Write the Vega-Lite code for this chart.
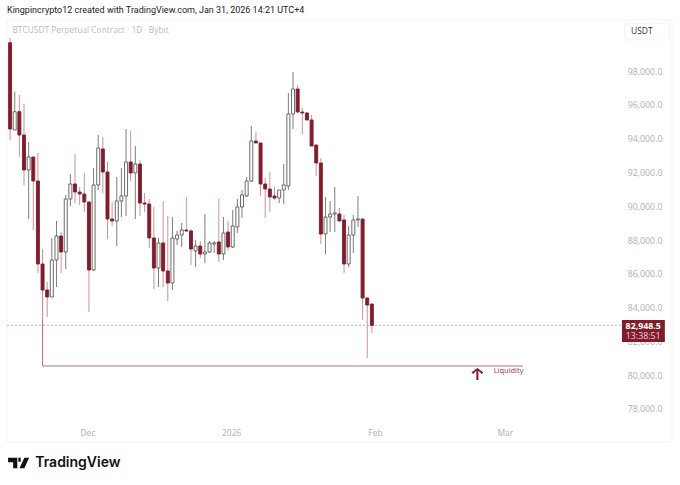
{
  "$schema": "https://vega.github.io/schema/vega-lite/v6.json",
  "width": 608,
  "height": 400,
  "autosize": {"type": "none"},
  "padding": {"left": 7, "top": 20, "right": 65, "bottom": 65},
  "background": "#ffffff",
  "title": {
    "text": "Kingpincrypto12 created with TradingView.com, Jan 31, 2026 14:21 UTC+4",
    "anchor": "start",
    "frame": "group",
    "font": "Roboto",
    "fontSize": 9,
    "fontWeight": 400,
    "color": "#222222",
    "offset": 5
  },
  "config": {"view": {"stroke": null}},
  "data": {"values": [
    {"d":"2025-11-14","dir":"down","o":99674,"h":99953,"l":93917,"c":94568},
    {"d":"2025-11-15","dir":"up","o":94509,"h":96775,"l":94509,"c":95592},
    {"d":"2025-11-16","dir":"down","o":95592,"h":96580,"l":92929,"c":94213},
    {"d":"2025-11-17","dir":"down","o":94213,"h":96047,"l":91255,"c":92142},
    {"d":"2025-11-18","dir":"up","o":92142,"h":93799,"l":89243,"c":92911},
    {"d":"2025-11-19","dir":"down","o":92911,"h":92911,"l":88592,"c":91491},
    {"d":"2025-11-20","dir":"down","o":91491,"h":93148,"l":86048,"c":86580},
    {"d":"2025-11-21","dir":"down","o":86580,"h":87468,"l":83267,"c":85042},
    {"d":"2025-11-22","dir":"down","o":85042,"h":85515,"l":83444,"c":84628},
    {"d":"2025-11-23","dir":"up","o":84628,"h":88119,"l":84628,"c":86817},
    {"d":"2025-11-24","dir":"up","o":86817,"h":89124,"l":85219,"c":88237},
    {"d":"2025-11-25","dir":"down","o":88237,"h":88474,"l":86048,"c":87290},
    {"d":"2025-11-26","dir":"up","o":87290,"h":90663,"l":86284,"c":90426},
    {"d":"2025-11-27","dir":"up","o":90426,"h":91905,"l":90012,"c":91314},
    {"d":"2025-11-28","dir":"down","o":91314,"h":93089,"l":90189,"c":90840},
    {"d":"2025-11-29","dir":"down","o":90840,"h":91136,"l":90071,"c":90722},
    {"d":"2025-11-30","dir":"down","o":90722,"h":91965,"l":89657,"c":90249},
    {"d":"2025-12-01","dir":"down","o":90249,"h":90249,"l":83740,"c":86225},
    {"d":"2025-12-02","dir":"up","o":86225,"h":92260,"l":86166,"c":91255},
    {"d":"2025-12-03","dir":"up","o":91255,"h":94213,"l":90959,"c":93444},
    {"d":"2025-12-04","dir":"down","o":93385,"h":94095,"l":90781,"c":92024},
    {"d":"2025-12-05","dir":"down","o":92024,"h":92615,"l":88059,"c":89243},
    {"d":"2025-12-06","dir":"down","o":89243,"h":90249,"l":88829,"c":89124},
    {"d":"2025-12-07","dir":"up","o":89124,"h":91728,"l":87645,"c":90308},
    {"d":"2025-12-08","dir":"up","o":90308,"h":92260,"l":89361,"c":90604},
    {"d":"2025-12-09","dir":"up","o":90604,"h":94568,"l":89420,"c":92615},
    {"d":"2025-12-10","dir":"down","o":92615,"h":94450,"l":91491,"c":91965},
    {"d":"2025-12-11","dir":"up","o":91965,"h":93562,"l":89243,"c":92497},
    {"d":"2025-12-12","dir":"down","o":92497,"h":92734,"l":89420,"c":90189},
    {"d":"2025-12-13","dir":"down","o":90189,"h":90781,"l":89657,"c":90130},
    {"d":"2025-12-14","dir":"down","o":90130,"h":90426,"l":87527,"c":88119},
    {"d":"2025-12-15","dir":"down","o":88119,"h":89953,"l":85101,"c":86343},
    {"d":"2025-12-16","dir":"up","o":86343,"h":88119,"l":85219,"c":87823},
    {"d":"2025-12-17","dir":"down","o":87823,"h":90308,"l":85219,"c":86166},
    {"d":"2025-12-18","dir":"down","o":86166,"h":89420,"l":84391,"c":85456},
    {"d":"2025-12-19","dir":"up","o":85456,"h":89361,"l":85042,"c":88119},
    {"d":"2025-12-20","dir":"up","o":88059,"h":88533,"l":87704,"c":88296},
    {"d":"2025-12-21","dir":"up","o":88296,"h":89006,"l":87586,"c":88592},
    {"d":"2025-12-22","dir":"down","o":88592,"h":90545,"l":88474,"c":88533},
    {"d":"2025-12-23","dir":"down","o":88533,"h":88651,"l":86521,"c":87468},
    {"d":"2025-12-24","dir":"up","o":87349,"h":88000,"l":86403,"c":87645},
    {"d":"2025-12-25","dir":"down","o":87645,"h":87941,"l":86935,"c":87172},
    {"d":"2025-12-26","dir":"up","o":87172,"h":89539,"l":86639,"c":87290},
    {"d":"2025-12-27","dir":"up","o":87290,"h":87941,"l":87231,"c":87823},
    {"d":"2025-12-28","dir":"up","o":87764,"h":87941,"l":87231,"c":87823},
    {"d":"2025-12-29","dir":"down","o":87882,"h":90426,"l":86698,"c":87172},
    {"d":"2025-12-30","dir":"up","o":87172,"h":89361,"l":86817,"c":88414},
    {"d":"2025-12-31","dir":"down","o":88474,"h":89124,"l":87408,"c":87586},
    {"d":"2026-01-01","dir":"up","o":87586,"h":89775,"l":87527,"c":88829},
    {"d":"2026-01-02","dir":"up","o":88769,"h":90426,"l":88414,"c":89953},
    {"d":"2026-01-03","dir":"up","o":89953,"h":90959,"l":89302,"c":90663},
    {"d":"2026-01-04","dir":"up","o":90604,"h":91728,"l":90545,"c":91491},
    {"d":"2026-01-05","dir":"up","o":91491,"h":94746,"l":91432,"c":93858},
    {"d":"2026-01-06","dir":"down","o":93858,"h":94391,"l":93740,"c":93740},
    {"d":"2026-01-07","dir":"down","o":93740,"h":93740,"l":90604,"c":91314},
    {"d":"2026-01-08","dir":"down","o":91314,"h":91669,"l":89302,"c":91018},
    {"d":"2026-01-09","dir":"down","o":91018,"h":92024,"l":89657,"c":90545},
    {"d":"2026-01-10","dir":"down","o":90604,"h":91136,"l":90367,"c":90485},
    {"d":"2026-01-11","dir":"up","o":90485,"h":90959,"l":90189,"c":90959},
    {"d":"2026-01-12","dir":"up","o":90959,"h":92497,"l":90130,"c":91255},
    {"d":"2026-01-13","dir":"up","o":91195,"h":96698,"l":90959,"c":95456},
    {"d":"2026-01-14","dir":"up","o":95456,"h":97941,"l":94568,"c":96935},
    {"d":"2026-01-15","dir":"down","o":96935,"h":97172,"l":95515,"c":95574},
    {"d":"2026-01-16","dir":"down","o":95574,"h":95811,"l":94272,"c":95515},
    {"d":"2026-01-17","dir":"down","o":95515,"h":95574,"l":95101,"c":95101},
    {"d":"2026-01-18","dir":"down","o":95101,"h":95396,"l":93562,"c":93562},
    {"d":"2026-01-19","dir":"down","o":93621,"h":93621,"l":91787,"c":92556},
    {"d":"2026-01-20","dir":"down","o":92556,"h":92852,"l":87764,"c":88355},
    {"d":"2026-01-21","dir":"up","o":88355,"h":90545,"l":87172,"c":89361},
    {"d":"2026-01-22","dir":"up","o":89361,"h":90308,"l":88474,"c":89539},
    {"d":"2026-01-23","dir":"up","o":89539,"h":91136,"l":88474,"c":89598},
    {"d":"2026-01-24","dir":"down","o":89539,"h":89894,"l":89124,"c":89124},
    {"d":"2026-01-25","dir":"down","o":89184,"h":89479,"l":86048,"c":86580},
    {"d":"2026-01-26","dir":"up","o":86580,"h":88829,"l":86403,"c":88296},
    {"d":"2026-01-27","dir":"up","o":88296,"h":89479,"l":87231,"c":89184},
    {"d":"2026-01-28","dir":"up","o":89184,"h":90604,"l":88769,"c":89243},
    {"d":"2026-01-29","dir":"down","o":89243,"h":89243,"l":83267,"c":84568},
    {"d":"2026-01-30","dir":"down","o":84568,"h":84628,"l":81018,"c":84154},
    {"d":"2026-01-31","dir":"down","o":84213,"h":84213,"l":82497,"c":82948.5}
  ]},
  "encoding": {
    "x": {
      "field": "d",
      "type": "temporal",
      "scale": {"type": "utc", "padding": 0, "domain": ["2025-11-13T08:00:00Z", "2026-03-24T10:00:00Z"]},
      "axis": {
        "title": null,
        "grid": false,
        "domain": false,
        "ticks": false,
        "values": ["2025-12-01T00:00:00Z", "2026-01-01T00:00:00Z", "2026-02-01T00:00:00Z", "2026-03-01T00:00:00Z"],
        "labelExpr": "utcmonth(datum.value) == 0 ? '2026' : utcFormat(datum.value, '%b')",
        "labelFont": "Open Sans",
        "labelFontSize": 8.5,
        "labelColor": "#b0b0b0",
        "labelPadding": 8,
        "labelOffset": -1.5
      }
    },
    "y": {
      "type": "quantitative",
      "scale": {"domain": [77349, 101018], "nice": false, "zero": false},
      "axis": {
        "orient": "right",
        "title": null,
        "grid": false,
        "domain": false,
        "ticks": false,
        "values": [78000, 80000, 82000, 84000, 86000, 88000, 90000, 92000, 94000, 96000, 98000],
        "format": ",.1f",
        "labelFont": "Open Sans",
        "labelFontSize": 8.8,
        "labelColor": "#b0b0b0",
        "labelAlign": "right",
        "labelPadding": 47
      }
    }
  },
  "layer": [
    {
      "data": {"values": [{"x1": "2025-11-13T08:00:00Z", "x2": "2026-04-05T17:00:00Z", "p1": 101018, "p2": 76047}]},
      "mark": {"type": "rect", "fill": null, "stroke": "#f3f3f3", "strokeWidth": 1},
      "encoding": {
        "x": {"field": "x1", "type": "temporal"},
        "x2": {"field": "x2"},
        "y": {"field": "p1", "type": "quantitative"},
        "y2": {"field": "p2"}
      }
    },
    {
      "data": {"values": [{"x1": "2025-11-13T08:00:00Z", "x2": "2026-03-25T22:00:00Z", "p": 82948.5}]},
      "mark": {"type": "rule", "stroke": "#d9a3ad", "strokeWidth": 1, "strokeDash": [2, 2]},
      "encoding": {
        "x": {"field": "x1", "type": "temporal"},
        "x2": {"field": "x2"},
        "y": {"field": "p", "type": "quantitative"}
      }
    },
    {
      "data": {"values": [{"x1": "2025-11-21", "p1": 85042, "p2": 80545}]},
      "mark": {"type": "rule", "color": "#b9707d", "strokeWidth": 1},
      "encoding": {
        "x": {"field": "x1", "type": "temporal"},
        "y": {"field": "p1", "type": "quantitative"},
        "y2": {"field": "p2"}
      }
    },
    {
      "data": {"values": [{"x1": "2025-11-21", "x2": "2026-03-04T14:00:00Z", "p": 80545}]},
      "mark": {"type": "rule", "color": "#b9707d", "strokeWidth": 1},
      "encoding": {
        "x": {"field": "x1", "type": "temporal"},
        "x2": {"field": "x2"},
        "y": {"field": "p", "type": "quantitative"}
      }
    },
    {
      "mark": {"type": "rule", "strokeWidth": 1},
      "encoding": {
        "y": {"field": "l", "type": "quantitative"},
        "y2": {"field": "h"},
        "color": {"condition": {"test": "datum.dir == 'up'", "value": "#7d7d7d"}, "value": "#c9929c"}
      }
    },
    {
      "mark": {"type": "bar", "size": 3, "strokeWidth": 0.9},
      "encoding": {
        "y": {"field": "o", "type": "quantitative"},
        "y2": {"field": "c"},
        "fill": {"condition": {"test": "datum.dir == 'up'", "value": "#ffffff"}, "value": "#7f1d2d"},
        "stroke": {"condition": {"test": "datum.dir == 'up'", "value": "#5a5a5a"}, "value": "#7f1d2d"}
      }
    },
    {
      "data": {"values": [{"x1": "2026-03-25T22:00:00Z", "x2": "2026-04-04T04:00:00Z", "p1": 83267, "p2": 81965}]},
      "mark": {"type": "rect", "fill": "#7f1d2d"},
      "encoding": {
        "x": {"field": "x1", "type": "temporal"},
        "x2": {"field": "x2"},
        "y": {"field": "p1", "type": "quantitative"},
        "y2": {"field": "p2"}
      }
    },
    {
      "data": {"values": [{"x1": "2026-03-26T12:00:00Z", "x2": "2026-04-05T05:00:00Z", "p1": 100840, "p2": 99834}]},
      "mark": {"type": "rect", "fill": "#ffffff", "stroke": "#f1f1f1", "cornerRadius": 3},
      "encoding": {
        "x": {"field": "x1", "type": "temporal"},
        "x2": {"field": "x2"},
        "y": {"field": "p1", "type": "quantitative"},
        "y2": {"field": "p2"}
      }
    },
    {
      "data": {"values": [{"t": "USDT", "x1": "2026-03-30T05:00:00Z", "p": 100396}]},
      "mark": {"type": "text", "font": "Open Sans", "fontSize": 8.5, "color": "#333333", "fontWeight": 500},
      "encoding": {
        "x": {"field": "x1", "type": "temporal"},
        "y": {"field": "p", "type": "quantitative"},
        "text": {"field": "t"}
      }
    },
    {
      "data": {"values": [{"t": "82,948.5", "x1": "2026-03-30T12:00:00Z", "p": 82912}]},
      "mark": {"type": "text", "font": "Open Sans", "fontSize": 8.8, "color": "#ffffff", "fontWeight": 700},
      "encoding": {
        "x": {"field": "x1", "type": "temporal"},
        "y": {"field": "p", "type": "quantitative"},
        "text": {"field": "t"}
      }
    },
    {
      "data": {"values": [{"t": "13:38:51", "x1": "2026-03-30T12:00:00Z", "p": 82320}]},
      "mark": {"type": "text", "font": "Open Sans", "fontSize": 8.8, "color": "#e9d0d4"},
      "encoding": {
        "x": {"field": "x1", "type": "temporal"},
        "y": {"field": "p", "type": "quantitative"},
        "text": {"field": "t"}
      }
    },
    {
      "data": {"values": [{"t": "BTCUSDT Perpetual Contract · 1D · Bybit", "x1": "2025-11-14T12:00:00Z", "p": 100426}]},
      "mark": {"type": "text", "font": "Open Sans", "fontSize": 8.4, "color": "#bdbdbd", "align": "left"},
      "encoding": {
        "x": {"field": "x1", "type": "temporal"},
        "y": {"field": "p", "type": "quantitative"},
        "text": {"field": "t"}
      }
    },
    {
      "data": {"values": [{"t": "Liquidity", "x1": "2026-02-26T06:00:00Z", "p": 80249}]},
      "mark": {"type": "text", "font": "Open Sans", "fontSize": 7.5, "color": "#8f3a48", "align": "left"},
      "encoding": {
        "x": {"field": "x1", "type": "temporal"},
        "y": {"field": "p", "type": "quantitative"},
        "text": {"field": "t"}
      }
    },
    {
      "data": {"values": [{"x1": "2026-02-22T18:00:00Z", "p": 80071}]},
      "mark": {
        "type": "point",
        "shape": "M-0.17 1 V-0.55 L-0.72 0 L-1 -0.27 L0 -1 L1 -0.27 L0.72 0 L0.17 -0.55 V1 Z",
        "size": 144,
        "filled": true,
        "opacity": 1,
        "color": "#7f1d2d"
      },
      "encoding": {
        "x": {"field": "x1", "type": "temporal"},
        "y": {"field": "p", "type": "quantitative"}
      }
    },
    {
      "data": {"values": [{"x1": "2025-11-15T20:00:00Z", "p": 74805}]},
      "mark": {
        "type": "point",
        "shape": "M-1 -0.5 H-0.12 V0.5 H-0.52 V-0.08 H-1 Z M-0.02 -0.5 H0.2 V-0.12 H-0.02 Z M0.55 -0.5 H1 L0.55 0.5 H0.08 Z",
        "size": 441,
        "filled": true,
        "opacity": 1,
        "color": "#111111"
      },
      "encoding": {
        "x": {"field": "x1", "type": "temporal"},
        "y": {"field": "p", "type": "quantitative"}
      }
    },
    {
      "data": {"values": [{"t": "TradingView", "x1": "2025-11-19T10:00:00Z", "p": 74805}]},
      "mark": {"type": "text", "font": "Inter", "fontSize": 14, "fontWeight": 600, "color": "#111111", "align": "left"},
      "encoding": {
        "x": {"field": "x1", "type": "temporal"},
        "y": {"field": "p", "type": "quantitative"},
        "text": {"field": "t"}
      }
    }
  ]
}
